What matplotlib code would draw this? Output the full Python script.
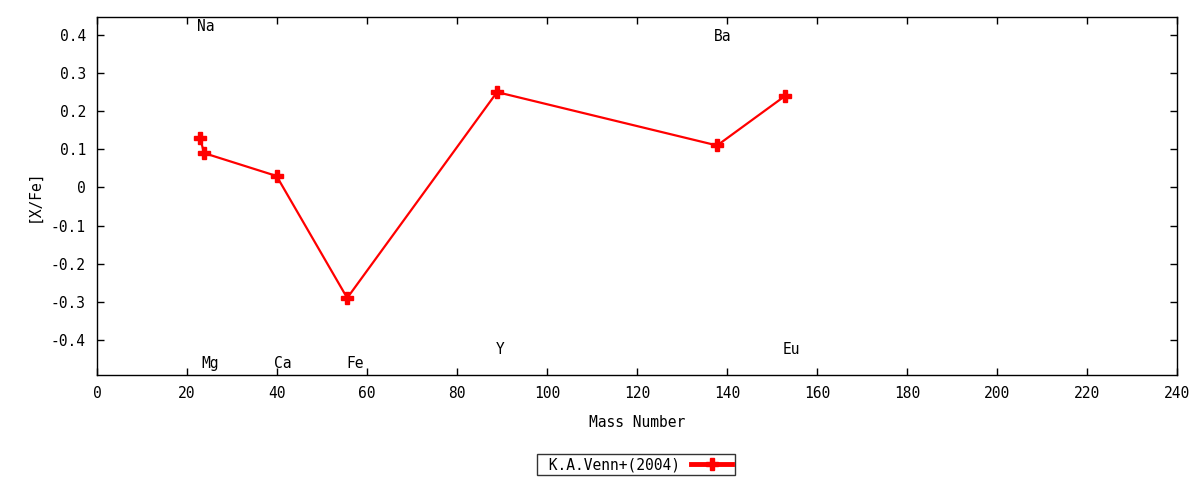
import matplotlib
matplotlib.use("Agg")
import matplotlib.pyplot as plt

# data
mass = [22.9, 23.8, 39.9, 55.6, 88.9, 137.8, 152.9]
xfe = [0.13, 0.09, 0.03, -0.29, 0.25, 0.11, 0.24]
elements = ["Na", "Mg", "Ca", "Fe", "Y", "Ba", "Eu"]
label_x = [22.2, 23.3, 39.3, 55.5, 88.7, 137.0, 152.4]
label_y = [0.421, -0.463, -0.463, -0.463, -0.426, 0.395, -0.426]
xticks = list(range(0, 241, 20))
yticks = [-0.4, -0.3, -0.2, -0.1, 0, 0.1, 0.2, 0.3, 0.4]
ytick_labels = ["-0.4", "-0.3", "-0.2", "-0.1", "0", "0.1", "0.2", "0.3", "0.4"]

plt.rcParams['font.family'] = ['DejaVu Sans Mono']
plt.rcParams['font.size'] = 10.5

fig = plt.figure(figsize=(12, 4.8), dpi=100)
ax = fig.add_axes([97/1200, 1-375/480, (1177-97)/1200, (375-17)/480])

ax.plot(mass, xfe, color='red', lw=1.6, marker='P', ms=8.5, mec='red', mfc='red',
        label=' K.A.Venn+(2004)')
for lx, e, ly in zip(label_x, elements, label_y):
    ax.text(lx, ly, e, ha='left', va='center', fontsize=10.5)

ax.set_xlim(0, 240)
ax.set_ylim(-0.492, 0.447)
ax.set_xticks(xticks)
ax.set_yticks(yticks)
ax.set_yticklabels(ytick_labels)
ax.tick_params(direction='in', top=True, right=True, length=5, width=1, pad=8)
for s in ax.spines.values():
    s.set_linewidth(1)
ax.set_xlabel('Mass Number', labelpad=10)
ax.set_ylabel('[X/Fe]', labelpad=7)

leg = fig.legend(loc='center', bbox_to_anchor=(636/1200, 1-464.5/480), frameon=True,
                 fancybox=False, edgecolor='black', handlelength=2.8, markerfirst=False,
                 borderpad=0.2, handletextpad=0.8)
leg.get_frame().set_linewidth(1)
for ln in leg.get_lines():
    ln.set_linewidth(3.5)

fig.savefig('out.png', dpi=100)
